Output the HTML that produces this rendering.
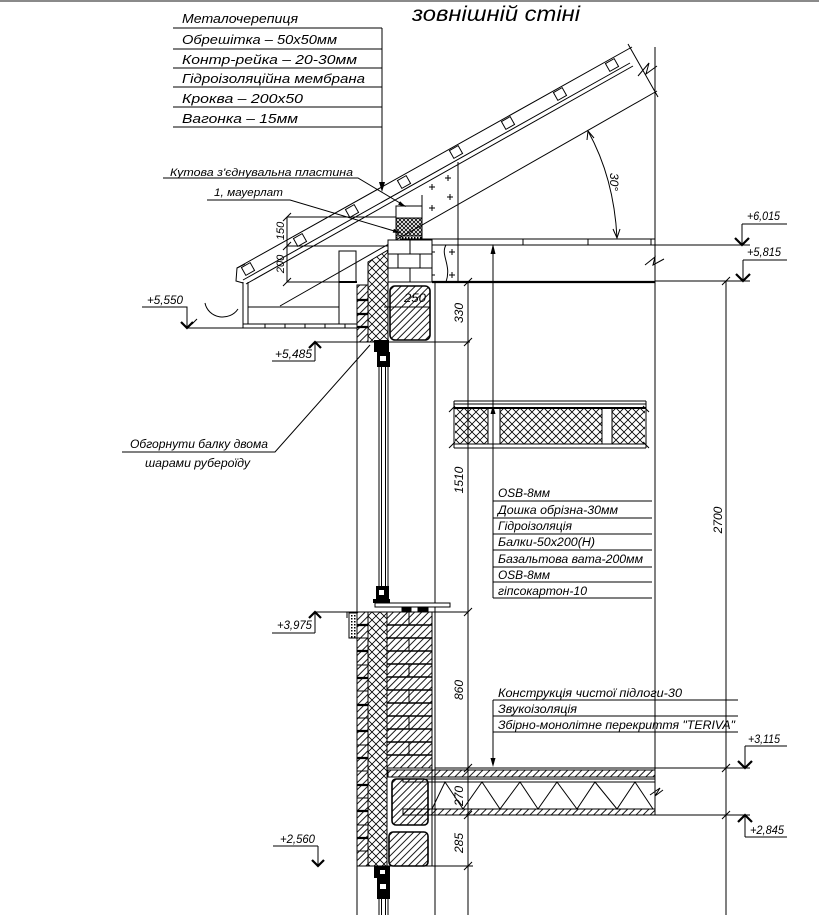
<!DOCTYPE html>
<html><head><meta charset="utf-8"><style>
html,body{margin:0;padding:0;background:#fff;}
svg{display:block;}
text{font-family:"Liberation Sans","DejaVu Sans",sans-serif;font-style:italic;fill:#000;stroke:none;}
</style></head><body>
<svg width="819" height="915" viewBox="0 0 819 915" xmlns="http://www.w3.org/2000/svg">
<defs>
<pattern id="h" width="5" height="5" patternUnits="userSpaceOnUse" patternTransform="rotate(45)"><line x1="1" y1="0" x2="1" y2="5" stroke="#000" stroke-width="0.9"/></pattern>
<pattern id="x" width="8" height="8" patternUnits="userSpaceOnUse"><path d="M0,0L8,8M8,0L0,8" stroke="#000" stroke-width="0.8"/></pattern>
<pattern id="xd" width="4" height="4" patternUnits="userSpaceOnUse"><path d="M0,0L4,4M4,0L0,4" stroke="#000" stroke-width="0.8"/></pattern>
<pattern id="dots" width="3" height="3" patternUnits="userSpaceOnUse"><rect x="0" y="0" width="1.5" height="1.5" fill="#000"/></pattern>
</defs>
<rect width="819" height="915" fill="#fff"/>
<line x1="0" y1="1" x2="819" y2="1" stroke="#8a8a8a" stroke-width="2"/>

<!-- title -->
<text x="412" y="21" font-size="21" textLength="168" lengthAdjust="spacingAndGlyphs">зовнішній стіні</text>

<g stroke="#000" fill="none" stroke-width="1">
<!-- top label table -->
<path d="M173,28H382M173,49H382M173,68H382M173,87H382M173,107H382M173,127H382M382,28V186"/>
<path d="M163,178H358L405,206"/>
<path d="M207,200H290L401,233"/>

<!-- roof -->
<path d="M237,268L632,47"/>
<path d="M243,280L630,63"/>
<path d="M246,284L633,66"/>
<path d="M245,264L237,268L236,281L243,283"/>
<path d="M280,306L657,91"/>
<path d="M628,44L658,97M638,76L649,63L646,74L657,66"/>
<g transform="rotate(-29.25 248 269)"><rect x="243" y="264.5" width="10" height="9"/></g>
<g transform="rotate(-29.25 300 240)"><rect x="295" y="235.5" width="10" height="9"/></g>
<g transform="rotate(-29.25 352 211)"><rect x="347" y="206.5" width="10" height="9"/></g>
<g transform="rotate(-29.25 404 182)"><rect x="399" y="177.5" width="10" height="9"/></g>
<g transform="rotate(-29.25 456 152)"><rect x="451" y="147.5" width="10" height="9"/></g>
<g transform="rotate(-29.25 508 123)"><rect x="503" y="118.5" width="10" height="9"/></g>
<g transform="rotate(-29.25 560 94)"><rect x="555" y="89.5" width="10" height="9"/></g>
<g transform="rotate(-29.25 612 65)"><rect x="607" y="60.5" width="10" height="9"/></g>

<!-- post with plus signs -->
<path d="M422,195V282M458,162V282"/>
<path d="M429,187h6M432,184v6M445,178h6M448,175v6M447,197h6M450,194v6M429,208h6M432,205v6M429,252h6M432,249v6M449,252h6M452,249v6M429,275h6M432,272v6M449,275h6M452,272v6"/>
<path d="M446,245C440,255 452,265 446,282"/>

<!-- ceiling -->
<path d="M400,239H655M400,245H750M458,239V245M523,239V245M588,239V245M651,239V245"/>
<line x1="432" y1="282" x2="655" y2="282" stroke-width="2.2"/>
<path d="M655,281H750"/>
<path d="M645,265L655,257L653,265L664,259"/>
<path d="M655,47V815"/>

<!-- right elevations top -->
<path d="M742,224H787M742,224V245M743,260H787M743,260V281"/>
<path d="M735,238L742,245L749,238M736,274L743,281L750,274" stroke-width="2.2"/>
<!-- dim 2700 -->
<path d="M726,281V915M722,285L730,277M722,772L730,764M722,819L730,811"/>

<!-- leader x=493 -->
<path d="M493,245V598"/>

<!-- wall panel -->
<path d="M454,401H646M454,404H646M454,444H646M454,448H646M454,401V448M646,401V448"/>
<line x1="454" y1="408" x2="646" y2="408" stroke-width="2"/>
<rect x="455" y="409" width="33" height="35" fill="url(#x)" stroke="none"/>
<rect x="500" y="409" width="102" height="35" fill="url(#x)" stroke="none"/>
<rect x="612" y="409" width="33" height="35" fill="url(#x)" stroke="none"/>
<path d="M488,408V444M500,408V444M602,408V444M612,408V444"/>
<path d="M449,412L455,406M649,412L643,406M449,448L455,442M649,448L643,442"/>

<!-- middle label table -->
<path d="M493,501H652M493,518H652M493,534H652M493,550H652M493,567H652M493,582H652M493,598H652"/>

<!-- eave -->
<path d="M243,282V328M248,282V324M248,307H339M243,324H357M187,328H357M265,324V328M285,324V328M305,324V328M325,324V328M345,324V328M339,251V324"/>
<rect x="339" y="251" width="17" height="31"/>
<line x1="339" y1="282" x2="357" y2="282" stroke-width="2"/>
<path d="M205,303A18,17 0 0 0 238,309"/>
<path d="M192,324L197,319"/>
<!-- dim 150/200 -->
<path d="M287,217V282M287,217H396M287,246H390M287,282H339M283,221L291,213M283,250L291,242M283,286L291,278"/>
<!-- +5,550 -->
<path d="M142,307H187V328"/>
<path d="M181,322L187,328L193,322" stroke-width="2.2"/>

<!-- upper wall -->
<rect x="357" y="285" width="11" height="57" fill="url(#h)"/>
<path d="M357,300H368M357,314H368M357,327H368" stroke-width="2.2"/>
<polygon points="368,262 388,250 388,342 368,342" fill="url(#x)"/>
<rect x="388" y="240" width="44" height="42" fill="#fff"/>
<path d="M388,254H432M388,268H432M410,240V254M398,254V268M420,254V268M410,268V282"/>
<rect x="396" y="206" width="26" height="12" fill="#fff"/>
<rect x="396" y="218" width="26" height="18" fill="url(#xd)"/>
<rect x="396" y="236" width="26" height="4" fill="url(#dots)"/>
<rect x="390" y="286" width="40" height="54" rx="5" fill="url(#h)" stroke-width="1.6"/>
<path d="M384,307H430"/>
<path d="M357,342H470"/>
<path d="M357,285V915M435,282V915M468,282V915M388,245V342"/>
<!-- dim ticks on 468 -->
<path d="M464,286L472,278M464,346L472,338M464,616L472,608M464,772L472,764M464,819L472,811M464,870L472,862"/>

<!-- upper window -->
<path d="M379,367V586M381.5,367V586M385.5,367V586M388,367V586"/>
<!-- +5,485 -->
<path d="M315,342H376M315,342V361M272,361H315"/>
<path d="M309,348L315,342L321,348" stroke-width="2.2"/>
<!-- leader Обгорнути -->
<path d="M122,452H275L370,345"/>

<!-- sill -->
<rect x="375" y="603" width="75" height="4" fill="#fff"/>
<rect x="349" y="613" width="8" height="25" fill="url(#dots)"/>
<path d="M347,618V612H352"/>
<!-- +3,975 -->
<path d="M315,612H468M315,612V633M272,633H315"/>
<path d="M309,618L315,612L321,618" stroke-width="2.2"/>

<!-- lower wall -->
<rect x="357" y="612" width="11" height="254" fill="url(#h)"/>
<path d="M357,625H368M357,651H368M357,678H368M357,705H368M357,731H368M357,758H368M357,785H368M357,811H368M357,838H368" stroke-width="2.2"/>
<path d="M357,638H368M357,665H368M357,691H368M357,718H368M357,745H368M357,771H368M357,798H368M357,825H368M357,851H368"/>
<rect x="368" y="612" width="19" height="254" fill="url(#x)"/>
<rect x="387" y="612" width="45" height="156" fill="url(#h)"/>
<path d="M387,625H432M387,638H432M387,651H432M387,664H432M387,677H432M387,690H432M387,703H432M387,716H432M387,729H432M387,742H432M387,755H432" stroke-width="1.6"/>
<path d="M409,612V625M409,638V651M409,664V677M409,690V703M409,716V729M409,742V755"/>
<rect x="387" y="768" width="45" height="98" fill="#fff"/>
<rect x="392" y="779" width="36" height="46" rx="4" fill="url(#h)" stroke-width="1.6"/>
<rect x="389" y="832" width="39" height="34" rx="4" fill="url(#h)" stroke-width="1.6"/>
<path d="M357,866H473"/>
<rect x="402" y="607" width="9" height="5" fill="#000"/>
<rect x="418" y="607" width="10" height="5" fill="#000"/>

<!-- slab -->
<path d="M435,768H750"/>
<rect x="388" y="770" width="267" height="7" fill="url(#h)"/>
<rect x="403" y="779" width="252" height="3"/>
<polyline points="432,809 445,782 463,809 482,782 500,809 520,782 538,809 557,782 577,809 595,782 617,809 635,782 653,809"/>
<rect x="403" y="809" width="252" height="6" fill="url(#h)"/>
<path d="M435,815H750"/>
<path d="M650,795L660,788L655,796L663,790"/>
<!-- +3,115 / +2,845 -->
<path d="M745,746H787M745,746V768M745,815V837M745,837H787"/>
<path d="M738,761L745,768L752,761M738,822L745,815L752,822" stroke-width="2.2"/>
<!-- +2,560 -->
<path d="M273,846H318M318,846V866"/>
<path d="M312,860L318,866L324,860" stroke-width="2.2"/>
<!-- lower labels -->
<path d="M493,700H738M493,716H738M493,732H738M493,700V760"/>

<!-- angle -->
<path d="M588,131Q614,178 617,238"/>
<path d="M613,229L617,238L620,229M587,140L588,131L594,138"/>
<path d="M379,899V915M381.5,899V915M385.5,899V915M388,899V915"/>
</g>

<!-- filled arrows/blocks -->
<g fill="#000" stroke="none">
<polygon points="379,182 385,182 382,192"/>
<polygon points="406,207 398.1,204.6 400.1,201.2"/>
<polygon points="401,233 392.7,232.6 393.9,228.8"/>
<polygon points="490.5,254 495.5,254 493,244"/>
<polygon points="490.5,414 495.5,414 493,405"/>
<polygon points="490.5,758 495.5,758 493,767"/>
<!-- window frames -->
<rect x="374" y="340" width="15" height="12"/>
<rect x="377" y="352" width="13" height="15"/>
<rect x="376" y="586" width="13" height="13"/>
<rect x="373" y="599" width="17" height="4"/>
<rect x="374" y="866" width="16" height="12"/>
<rect x="377" y="878" width="13" height="21"/>
</g>
<g fill="#fff" stroke="none">
<rect x="380" y="356" width="6" height="5"/>
<rect x="379" y="590" width="5" height="5"/>
<rect x="380" y="870" width="5" height="4"/>
<rect x="380" y="884" width="6" height="5"/>
</g>

<!-- texts -->
<g font-size="13">
<text x="182" y="23" textLength="116" lengthAdjust="spacingAndGlyphs">Металочерепиця</text>
<text x="182" y="44" textLength="155" lengthAdjust="spacingAndGlyphs">Обрешітка – 50х50мм</text>
<text x="182" y="64" textLength="175" lengthAdjust="spacingAndGlyphs">Контр-рейка – 20-30мм</text>
<text x="182" y="83" textLength="183" lengthAdjust="spacingAndGlyphs">Гідроізоляційна мембрана</text>
<text x="182" y="103" textLength="121" lengthAdjust="spacingAndGlyphs">Кроква – 200х50</text>
<text x="182" y="123" textLength="116" lengthAdjust="spacingAndGlyphs">Вагонка – 15мм</text>
</g>
<g font-size="11">
<text x="170" y="176" textLength="183" lengthAdjust="spacingAndGlyphs">Кутова з'єднувальна пластина</text>
<text x="214" y="196" textLength="69" lengthAdjust="spacingAndGlyphs">1, мауерлат</text>
</g>
<g font-size="11.5">
<text x="498" y="497" textLength="52" lengthAdjust="spacingAndGlyphs">OSB-8мм</text>
<text x="498" y="514" textLength="120" lengthAdjust="spacingAndGlyphs">Дошка обрізна-30мм</text>
<text x="498" y="530" textLength="74" lengthAdjust="spacingAndGlyphs">Гідроізоляція</text>
<text x="498" y="546" textLength="97" lengthAdjust="spacingAndGlyphs">Балки-50х200(Н)</text>
<text x="498" y="563" textLength="145" lengthAdjust="spacingAndGlyphs">Базальтова вата-200мм</text>
<text x="498" y="579" textLength="52" lengthAdjust="spacingAndGlyphs">OSB-8мм</text>
<text x="498" y="595" textLength="89" lengthAdjust="spacingAndGlyphs">гіпсокартон-10</text>
<text x="498" y="697" textLength="184" lengthAdjust="spacingAndGlyphs">Конструкція чистої підлоги-30</text>
<text x="498" y="713" textLength="79" lengthAdjust="spacingAndGlyphs">Звукоізоляція</text>
<text x="498" y="729" textLength="237" lengthAdjust="spacingAndGlyphs">Збірно-монолітне перекриття "TERIVA"</text>
<text x="130" y="448" textLength="138" lengthAdjust="spacingAndGlyphs">Обгорнути балку двома</text>
<text x="145" y="467" textLength="105" lengthAdjust="spacingAndGlyphs">шарами рубероїду</text>
</g>
<g font-size="12">
<text x="147" y="304" textLength="36" lengthAdjust="spacingAndGlyphs">+5,550</text>
<text x="275" y="358" textLength="37" lengthAdjust="spacingAndGlyphs">+5,485</text>
<text x="747" y="220" textLength="33" lengthAdjust="spacingAndGlyphs">+6,015</text>
<text x="747" y="256" textLength="34" lengthAdjust="spacingAndGlyphs">+5,815</text>
<text x="277" y="629" textLength="35" lengthAdjust="spacingAndGlyphs">+3,975</text>
<text x="280" y="843" textLength="35" lengthAdjust="spacingAndGlyphs">+2,560</text>
<text x="748" y="743" textLength="32" lengthAdjust="spacingAndGlyphs">+3,115</text>
<text x="750" y="834" textLength="34" lengthAdjust="spacingAndGlyphs">+2,845</text>
<text x="404" y="302" textLength="22" lengthAdjust="spacingAndGlyphs">250</text>
</g>
<g font-size="11" text-anchor="middle">
<text transform="translate(284,231) rotate(-90)">150</text>
<text transform="translate(284,264) rotate(-90)">200</text>
</g>
<g font-size="12" text-anchor="middle">
<text transform="translate(463,313) rotate(-90)">330</text>
<text transform="translate(463,480) rotate(-90)">1510</text>
<text transform="translate(463,690) rotate(-90)">860</text>
<text transform="translate(463,796) rotate(-90)">270</text>
<text transform="translate(463,843) rotate(-90)">285</text>
<text transform="translate(722,520) rotate(-90)">2700</text>
<text transform="translate(610,182) rotate(90)">30°</text>
</g>
</svg>
</body></html>
